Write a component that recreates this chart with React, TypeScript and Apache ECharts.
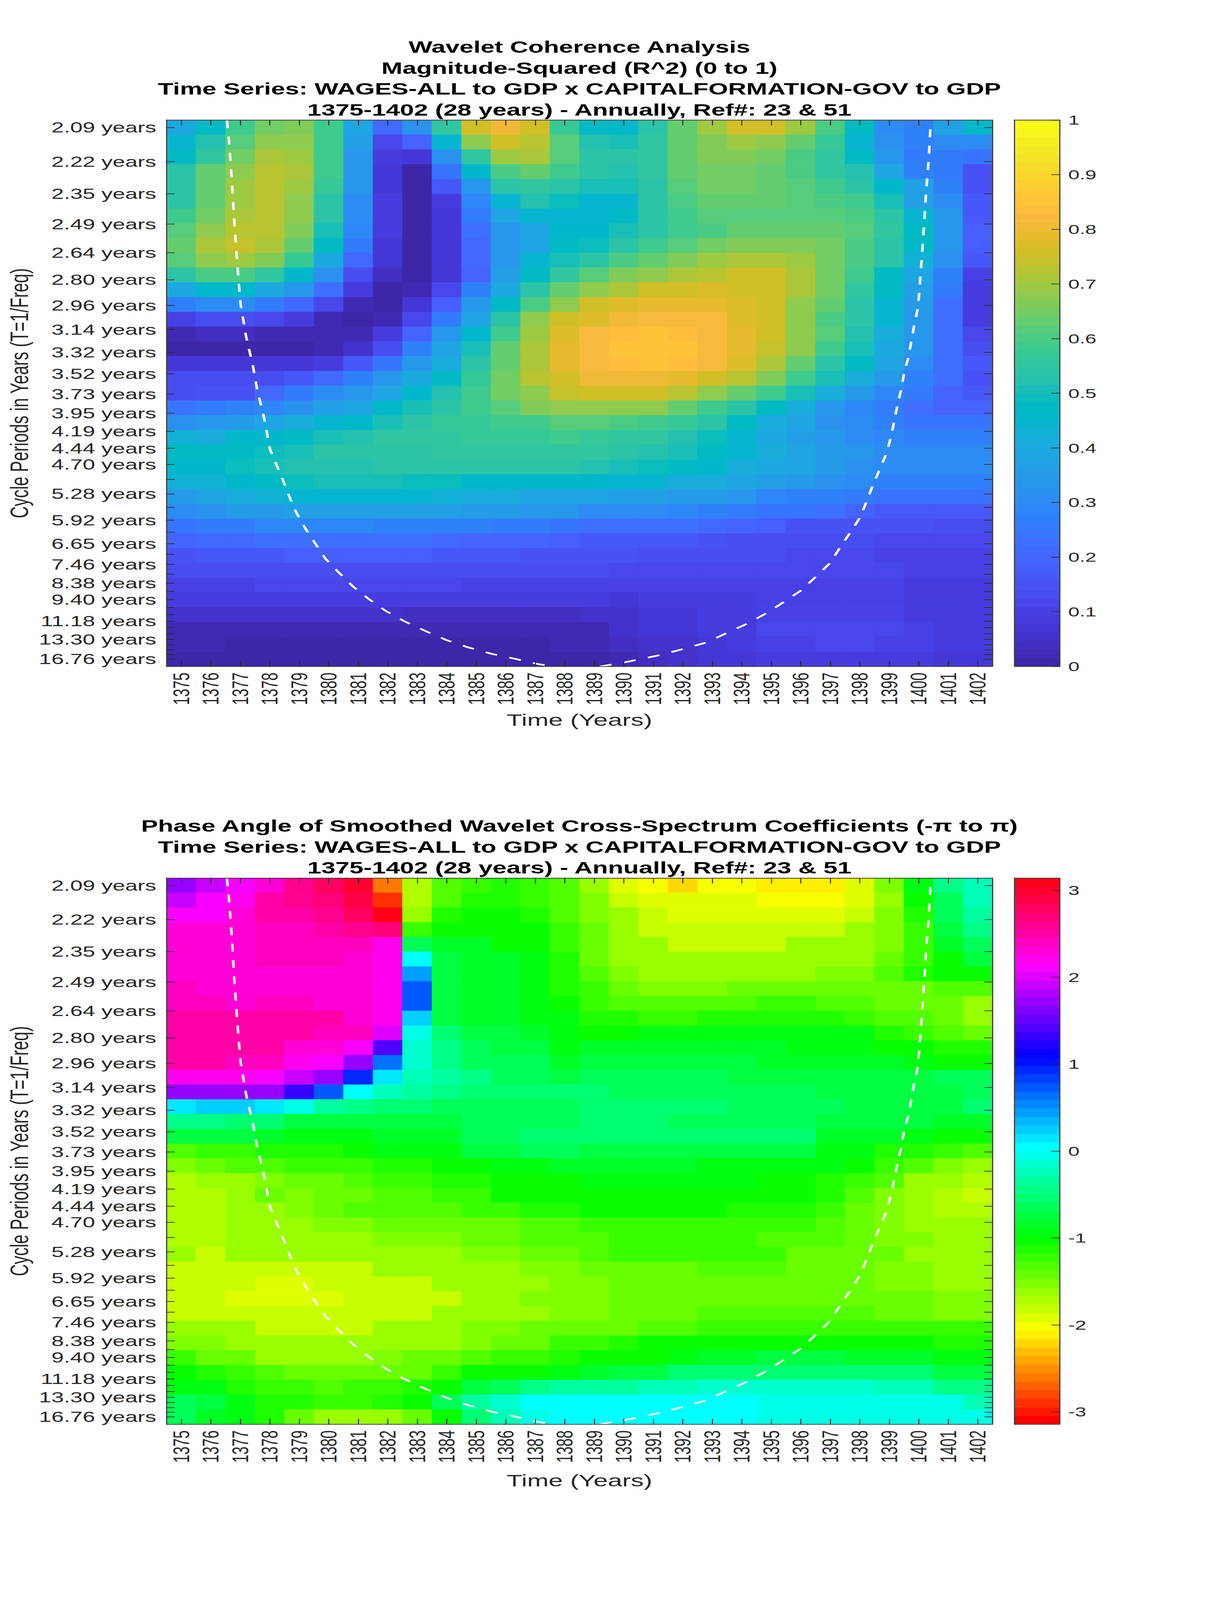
import { useEffect, useRef } from "react";
import * as echarts from "echarts";

const years = [1375, 1376, 1377, 1378, 1379, 1380, 1381, 1382, 1383, 1384, 1385, 1386, 1387, 1388, 1389, 1390, 1391, 1392, 1393, 1394, 1395, 1396, 1397, 1398, 1399, 1400, 1401, 1402];

// cycle period of every scale, top row first
const periods = [2.0945, 2.219, 2.3509, 2.4908, 2.6389, 2.7958, 2.9621, 3.1382, 3.3249, 3.5226, 3.7321, 3.954, 4.189, 4.438, 4.702, 4.981, 5.278, 5.591, 5.924, 6.276, 6.649, 7.045, 7.464, 7.908, 8.378, 8.876, 9.404, 9.963, 10.556, 11.183, 11.848, 12.553, 13.299, 14.09, 14.928, 15.816, 16.756];
const periodLabels = ["2.09", "2.22", "2.35", "2.49", "2.64", "2.80", "2.96", "3.14", "3.32", "3.52", "3.73", "3.95", "4.19", "4.44", "4.70", "", "5.28", "", "5.92", "", "6.65", "", "7.46", "", "8.38", "", "9.40", "", "", "11.18", "", "", "13.30", "", "", "", "16.76"];

const coherence = [
  [.40, .48, .58, .65, .67, .58, .39, .21, .32, .56, .76, .81, .75, .57, .47, .46, .54, .63, .70, .75, .75, .70, .60, .47, .31, .28, .37, .46],
  [.44, .53, .62, .68, .68, .58, .37, .12, .19, .44, .68, .76, .73, .61, .53, .51, .55, .625, .67, .70, .685, .64, .57, .45, .32, .28, .31, .31],
  [.47, .56, .65, .71, .70, .58, .34, .08, .07, .32, .56, .70, .705, .62, .54, .535, .56, .625, .67, .67, .655, .595, .56, .47, .34, .26, .26, .24],
  [.535, .63, .685, .73, .71, .58, .33, .065, .015, .24, .46, .60, .64, .585, .54, .53, .56, .625, .65, .655, .635, .595, .56, .52, .39, .28, .26, .15],
  [.545, .64, .695, .73, .70, .565, .33, .065, 0, .17, .34, .535, .56, .54, .51, .51, .54, .62, .65, .65, .635, .62, .58, .545, .46, .37, .28, .15],
  [.545, .63, .695, .73, .68, .545, .30, .09, 0, .08, .285, .44, .53, .49, .45, .45, .535, .605, .635, .635, .635, .62, .595, .585, .51, .37, .31, .165],
  [.58, .65, .71, .73, .68, .54, .30, .09, 0, .075, .26, .38, .45, .45, .44, .47, .535, .58, .62, .62, .62, .62, .62, .60, .545, .44, .34, .165],
  [.62, .68, .73, .73, .67, .51, .29, .09, 0, .065, .23, .34, .38, .46, .46, .51, .545, .58, .605, .635, .635, .635, .635, .62, .56, .47, .34, .18],
  [.64, .705, .74, .71, .64, .47, .26, .075, 0, .065, .21, .34, .38, .475, .49, .535, .58, .62, .655, .67, .67, .67, .655, .605, .545, .47, .34, .18],
  [.62, .685, .70, .67, .565, .40, .21, .065, 0, .075, .21, .34, .44, .51, .545, .60, .635, .67, .70, .71, .71, .70, .655, .605, .535, .43, .32, .165],
  [.54, .60, .60, .56, .455, .32, .14, .04, 0, .075, .20, .37, .48, .56, .61, .67, .685, .71, .73, .75, .75, .71, .655, .58, .48, .38, .28, .10],
  [.40, .46, .46, .40, .34, .23, .08, .01, .025, .12, .28, .40, .54, .635, .685, .715, .75, .765, .78, .76, .75, .715, .655, .56, .47, .37, .25, .09],
  [.28, .30, .30, .26, .21, .11, .03, .01, .065, .18, .34, .47, .60, .685, .75, .78, .79, .79, .79, .78, .75, .685, .625, .545, .45, .35, .22, .08],
  [.10, .125, .125, .11, .085, .03, .01, .03, .12, .26, .39, .54, .68, .75, .78, .81, .825, .825, .815, .78, .75, .68, .605, .535, .44, .34, .22, .08],
  [.025, .04, .04, .025, .025, .025, .03, .08, .19, .33, .46, .585, .70, .78, .825, .83, .85, .835, .825, .79, .75, .68, .61, .52, .41, .34, .22, .12],
  [.01, .01, .015, .015, .015, .02, .05, .14, .27, .39, .51, .625, .715, .785, .825, .85, .85, .85, .825, .79, .745, .68, .58, .51, .40, .34, .22, .14],
  [.07, .07, .07, .07, .065, .09, .17, .24, .34, .42, .54, .635, .71, .785, .82, .835, .85, .835, .815, .78, .71, .64, .54, .47, .38, .30, .23, .165],
  [.125, .125, .125, .14, .17, .21, .28, .34, .40, .48, .565, .655, .72, .765, .80, .81, .81, .79, .76, .72, .67, .58, .51, .42, .35, .28, .22, .15],
  [.14, .15, .15, .21, .26, .31, .34, .38, .46, .53, .58, .655, .685, .74, .755, .75, .75, .73, .685, .635, .58, .51, .41, .35, .285, .25, .19, .17],
  [.245, .255, .27, .285, .32, .37, .39, .455, .51, .535, .585, .62, .67, .675, .675, .675, .675, .635, .59, .545, .48, .41, .34, .29, .25, .22, .20, .20],
  [.325, .33, .35, .385, .42, .445, .46, .51, .535, .565, .57, .585, .585, .615, .62, .60, .58, .565, .535, .47, .41, .38, .32, .30, .27, .245, .245, .24],
  [.43, .41, .455, .46, .47, .515, .53, .55, .55, .56, .565, .57, .57, .58, .565, .56, .55, .53, .49, .44, .40, .37, .34, .30, .29, .27, .27, .275],
  [.475, .47, .47, .485, .51, .535, .535, .545, .54, .55, .55, .55, .55, .55, .55, .54, .53, .515, .475, .44, .41, .38, .35, .33, .30, .30, .30, .30],
  [.465, .465, .49, .51, .525, .53, .53, .54, .535, .535, .535, .535, .535, .535, .52, .51, .485, .47, .46, .42, .40, .38, .35, .32, .31, .30, .30, .30],
  [.43, .43, .46, .47, .485, .51, .51, .51, .485, .485, .46, .46, .46, .46, .46, .445, .445, .41, .41, .385, .37, .35, .32, .30, .28, .28, .28, .28],
  [.35, .385, .41, .43, .44, .445, .445, .445, .445, .43, .41, .41, .385, .385, .385, .37, .37, .35, .35, .33, .285, .28, .27, .26, .245, .24, .24, .24],
  [.30, .32, .345, .35, .37, .365, .365, .365, .365, .365, .35, .345, .34, .34, .31, .30, .30, .29, .28, .26, .24, .24, .22, .20, .17, .17, .17, .17],
  [.24, .25, .26, .285, .285, .285, .285, .28, .28, .275, .27, .25, .25, .24, .23, .23, .22, .22, .21, .20, .18, .15, .15, .15, .145, .145, .14, .14],
  [.195, .21, .21, .22, .22, .22, .22, .22, .22, .21, .20, .20, .19, .18, .17, .17, .16, .16, .15, .14, .14, .13, .125, .125, .12, .12, .12, .12],
  [.15, .16, .16, .17, .18, .18, .18, .18, .18, .17, .16, .16, .155, .15, .15, .145, .14, .14, .13, .13, .13, .12, .12, .12, .105, .105, .105, .105],
  [.125, .125, .125, .14, .14, .14, .14, .14, .14, .14, .13, .13, .13, .125, .125, .12, .12, .12, .12, .12, .12, .115, .115, .11, .11, .10, .10, .10],
  [.105, .105, .105, .12, .12, .12, .12, .115, .115, .115, .10, .10, .10, .10, .10, .10, .10, .10, .10, .10, .10, .10, .095, .095, .095, .09, .09, .09],
  [.08, .08, .08, .08, .085, .09, .09, .09, .08, .08, .08, .08, .08, .08, .08, .075, .08, .08, .085, .085, .095, .095, .095, .095, .095, .085, .08, .085],
  [.05, .05, .05, .05, .05, .05, .05, .05, .035, .035, .035, .035, .035, .035, .05, .06, .065, .07, .08, .085, .10, .10, .10, .10, .10, .09, .09, .08],
  [.03, .03, .02, .02, .02, .02, .02, .02, .02, .02, .02, .02, .02, .025, .03, .055, .07, .075, .08, .08, .11, .11, .11, .115, .11, .10, .09, .08],
  [.025, .025, .01, .01, .01, .01, .01, .01, .01, .01, .01, .01, .015, .02, .02, .04, .055, .06, .07, .08, .10, .10, .11, .11, .105, .10, .09, .08],
  [.015, .005, .005, .005, .01, .01, .01, .01, .01, .01, .01, .01, .01, .01, .015, .03, .04, .055, .065, .07, .08, .08, .085, .085, .085, .08, .075, .07],
];

const phase = [
  [1.71, 1.90, 2.09, 2.29, 2.51, 2.74, 2.95, -2.62, -1.76, -1.38, -1.31, -1.19, -1.26, -1.38, -1.64, -1.97, -2.09, -2.22, -2.09, -2.09, -2.19, -2.19, -2.19, -1.97, -1.57, -.98, -.52, -.26],
  [1.83, 2.09, 2.15, 2.43, 2.55, 2.62, 2.88, -2.95, -1.74, -1.38, -1.19, -1.19, -1.26, -1.38, -1.6, -1.83, -1.94, -1.94, -1.94, -1.94, -2.09, -2.09, -2.09, -1.97, -1.64, -1.05, -.68, -.26],
  [2.09, 2.09, 2.29, 2.43, 2.49, 2.55, 2.74, 3.0, -1.68, -1.19, -1.05, -1.05, -1.19, -1.38, -1.57, -1.70, -1.83, -1.94, -1.94, -1.94, -1.94, -1.94, -1.94, -1.83, -1.57, -1.19, -.68, -.42],
  [2.29, 2.29, 2.29, 2.40, 2.40, 2.43, 2.55, 2.62, -1.26, -1.05, -1.05, -1.08, -1.08, -1.26, -1.5, -1.64, -1.83, -1.83, -1.83, -1.83, -1.83, -1.83, -1.83, -1.70, -1.57, -1.26, -.8, -.52],
  [2.29, 2.29, 2.29, 2.40, 2.40, 2.40, 2.40, 2.2, -.68, -.92, -.92, -1.08, -1.08, -1.28, -1.5, -1.64, -1.70, -1.83, -1.83, -1.83, -1.83, -1.70, -1.70, -1.70, -1.57, -1.26, -.92, -.68],
  [2.29, 2.29, 2.29, 2.40, 2.40, 2.40, 2.25, 2.15, 0, -.75, -.85, -.85, -1.0, -1.19, -1.45, -1.64, -1.68, -1.68, -1.68, -1.68, -1.68, -1.68, -1.68, -1.64, -1.44, -1.26, -1.05, -.8],
  [2.27, 2.27, 2.27, 2.27, 2.27, 2.27, 2.25, 2.15, .42, -.75, -.85, -.88, -1.02, -1.19, -1.38, -1.57, -1.64, -1.70, -1.64, -1.64, -1.64, -1.64, -1.57, -1.57, -1.38, -1.19, -1.05, -1.05],
  [2.36, 2.29, 2.29, 2.29, 2.29, 2.29, 2.25, 2.15, .66, -.75, -.85, -.88, -1.02, -1.15, -1.31, -1.45, -1.55, -1.55, -1.55, -1.45, -1.45, -1.45, -1.45, -1.45, -1.45, -1.45, -1.38, -1.38],
  [2.40, 2.40, 2.29, 2.40, 2.40, 2.29, 2.29, 2.15, .66, -.75, -.85, -.88, -1.02, -1.08, -1.26, -1.38, -1.38, -1.38, -1.38, -1.38, -1.28, -1.28, -1.38, -1.38, -1.48, -1.48, -1.5, -1.66],
  [2.43, 2.43, 2.43, 2.43, 2.43, 2.43, 2.29, 2.15, .21, -.75, -.85, -.88, -.98, -1.03, -1.19, -1.19, -1.28, -1.28, -1.19, -1.19, -1.19, -1.19, -1.19, -1.28, -1.38, -1.38, -1.48, -1.66],
  [2.43, 2.43, 2.43, 2.43, 2.43, 2.33, 2.33, 1.94, -.09, -.63, -.8, -.83, -.92, -1.03, -1.08, -1.05, -1.03, -1.03, -1.03, -1.03, -1.03, -1.03, -1.03, -1.03, -1.15, -1.28, -1.38, -1.48],
  [2.43, 2.43, 2.43, 2.43, 2.29, 2.29, 2.09, 1.39, -.2, -.5, -.7, -.75, -.83, -.98, -.92, -.92, -.92, -.92, -.92, -.92, -.92, -.98, -.98, -1.0, -1.05, -1.05, -1.22, -1.22],
  [2.43, 2.43, 2.36, 2.33, 2.15, 2.09, 1.64, .61, -.18, -.47, -.68, -.72, -.72, -.85, -.83, -.83, -.83, -.83, -.83, -.83, -.88, -.88, -.88, -.88, -.88, -1.0, -1.05, -1.05],
  [2.18, 2.18, 2.18, 2.09, 1.9, 1.64, .93, .09, -.3, -.4, -.47, -.68, -.7, -.75, -.68, -.68, -.68, -.68, -.68, -.75, -.75, -.75, -.75, -.75, -.83, -.75, -.72, -.72],
  [1.64, 1.71, 1.71, 1.64, 1.29, .72, 0, -.33, -.4, -.5, -.63, -.63, -.63, -.63, -.6, -.7, -.7, -.7, -.7, -.7, -.7, -.7, -.75, -.75, -.75, -.75, -.75, -.68],
  [.12, .23, .23, .12, -.14, -.4, -.52, -.63, -.63, -.68, -.68, -.68, -.68, -.68, -.6, -.56, -.56, -.56, -.58, -.68, -.68, -.68, -.68, -.75, -.75, -.75, -.75, -.63],
  [-.5, -.5, -.56, -.63, -.75, -.83, -.83, -.83, -.83, -.75, -.72, -.72, -.72, -.72, -.56, -.56, -.56, -.7, -.7, -.7, -.7, -.7, -.8, -.8, -.8, -.8, -.88, -.88],
  [-.75, -.83, -.83, -.85, -1.0, -1.0, -1.0, -.85, -.85, -.88, -.68, -.68, -.56, -.56, -.63, -.63, -.63, -.63, -.63, -.63, -.63, -.63, -.88, -.88, -.88, -1.0, -1.05, -1.05],
  [-1.38, -1.28, -1.28, -1.19, -1.19, -1.19, -1.05, -1.03, -1.0, -.98, -.83, -.75, -.72, -.72, -.75, -.75, -.75, -.75, -.75, -.75, -.75, -.75, -.95, -1.03, -1.15, -1.19, -1.28, -1.38],
  [-1.57, -1.48, -1.38, -1.38, -1.31, -1.26, -1.26, -1.19, -1.19, -1.05, -1.05, -1.03, -.95, -.88, -.88, -.92, -.92, -.92, -.95, -.95, -.95, -.98, -1.03, -1.05, -1.26, -1.38, -1.57, -1.64],
  [-1.74, -1.66, -1.64, -1.55, -1.45, -1.45, -1.38, -1.28, -1.28, -1.19, -1.19, -1.05, -1.05, -1.05, -1.02, -1.02, -1.02, -1.02, -1.02, -1.02, -1.05, -1.05, -1.15, -1.26, -1.38, -1.64, -1.68, -1.74],
  [-1.74, -1.74, -1.64, -1.5, -1.6, -1.45, -1.45, -1.38, -1.38, -1.28, -1.28, -1.1, -1.1, -1.1, -1.05, -1.05, -1.05, -1.05, -1.05, -1.1, -1.1, -1.1, -1.22, -1.35, -1.57, -1.70, -1.76, -1.85],
  [-1.74, -1.74, -1.64, -1.64, -1.55, -1.48, -1.40, -1.40, -1.35, -1.35, -1.28, -1.28, -1.22, -1.15, -1.1, -1.1, -1.1, -1.1, -1.1, -1.22, -1.22, -1.22, -1.31, -1.45, -1.6, -1.7, -1.74, -1.74],
  [-1.74, -1.74, -1.66, -1.66, -1.66, -1.57, -1.57, -1.48, -1.48, -1.48, -1.45, -1.45, -1.38, -1.38, -1.26, -1.26, -1.26, -1.26, -1.26, -1.26, -1.26, -1.28, -1.38, -1.45, -1.6, -1.66, -1.68, -1.70],
  [-1.74, -1.74, -1.68, -1.68, -1.66, -1.62, -1.62, -1.55, -1.55, -1.55, -1.48, -1.48, -1.4, -1.38, -1.35, -1.28, -1.28, -1.28, -1.28, -1.28, -1.35, -1.35, -1.38, -1.48, -1.55, -1.6, -1.66, -1.66],
  [-1.68, -1.83, -1.70, -1.70, -1.70, -1.70, -1.70, -1.64, -1.64, -1.64, -1.57, -1.57, -1.5, -1.48, -1.38, -1.31, -1.31, -1.31, -1.31, -1.31, -1.31, -1.45, -1.45, -1.45, -1.5, -1.64, -1.66, -1.66],
  [-1.83, -1.83, -1.83, -1.83, -1.83, -1.83, -1.83, -1.68, -1.68, -1.68, -1.64, -1.64, -1.55, -1.55, -1.5, -1.45, -1.45, -1.45, -1.38, -1.38, -1.38, -1.45, -1.45, -1.45, -1.55, -1.6, -1.66, -1.66],
  [-1.83, -1.83, -1.83, -1.97, -1.97, -1.87, -1.87, -1.87, -1.87, -1.70, -1.70, -1.64, -1.64, -1.57, -1.6, -1.5, -1.45, -1.45, -1.45, -1.45, -1.45, -1.45, -1.45, -1.45, -1.55, -1.55, -1.66, -1.66],
  [-1.83, -1.83, -1.97, -1.97, -1.97, -1.97, -1.87, -1.87, -1.87, -1.83, -1.66, -1.66, -1.57, -1.57, -1.6, -1.5, -1.45, -1.45, -1.45, -1.45, -1.45, -1.45, -1.45, -1.45, -1.45, -1.45, -1.55, -1.55],
  [-1.83, -1.83, -1.83, -1.87, -1.87, -1.87, -1.87, -1.87, -1.87, -1.70, -1.70, -1.64, -1.64, -1.57, -1.6, -1.45, -1.45, -1.45, -1.35, -1.35, -1.35, -1.35, -1.35, -1.35, -1.45, -1.45, -1.55, -1.55],
  [-1.68, -1.68, -1.68, -1.83, -1.83, -1.83, -1.83, -1.7, -1.7, -1.7, -1.6, -1.6, -1.5, -1.5, -1.48, -1.45, -1.35, -1.35, -1.26, -1.26, -1.26, -1.26, -1.26, -1.26, -1.26, -1.26, -1.31, -1.31],
  [-1.55, -1.55, -1.66, -1.7, -1.7, -1.7, -1.7, -1.7, -1.64, -1.64, -1.55, -1.5, -1.45, -1.31, -1.28, -1.19, -1.1, -1.1, -1.05, -1.05, -1.05, -1.05, -1.05, -1.05, -1.05, -1.05, -1.15, -1.15],
  [-1.31, -1.48, -1.48, -1.62, -1.62, -1.62, -1.62, -1.6, -1.5, -1.5, -1.38, -1.31, -1.26, -1.15, -1.1, -1.05, -1.05, -.95, -.92, -.85, -.83, -.8, -.8, -.85, -.85, -.85, -1.0, -1.02],
  [-1.1, -1.22, -1.31, -1.40, -1.5, -1.5, -1.5, -1.45, -1.45, -1.26, -1.1, -1.05, -1.05, -.98, -.85, -.83, -.75, -.63, -.6, -.6, -.6, -.6, -.6, -.6, -.6, -.6, -.75, -.83],
  [-1.02, -1.03, -1.15, -1.26, -1.31, -1.38, -1.28, -1.28, -1.22, -1.05, -.8, -.7, -.5, -.37, -.4, -.4, -.26, -.26, -.22, -.22, -.22, -.22, -.22, -.22, -.26, -.26, -.47, -.52],
  [-.68, -.75, -1.0, -1.15, -1.22, -1.28, -1.28, -1.22, -1.05, -.68, -.4, -.18, 0, 0, 0, 0, 0, 0, 0, 0, -.05, -.05, -.05, -.05, -.05, -.1, -.1, -.26],
  [-.68, -.85, -1.03, -1.19, -1.45, -1.64, -1.70, -1.66, -1.48, -1.05, -.6, -.26, -.05, 0, 0, 0, 0, 0, 0, 0, -.05, -.05, -.05, -.05, -.05, -.14, -.14, -.14],
];

// cone of influence, read as year and frequency (1/period)
const coneLeftYears = [1376.55, 1376.62, 1376.71, 1376.8, 1376.92, 1377.01, 1377.2, 1377.43, 1377.57, 1377.81, 1378.01, 1378.22, 1378.45, 1378.69, 1378.91, 1379.22, 1379.55, 1379.89, 1380.34, 1380.82, 1381.36, 1381.92, 1382.57, 1383.27, 1384.01, 1384.76, 1385.55, 1386.33, 1387.12, 1387.67];
const coneLeftFreqs = [.4831, .4672, .4382, .4031, .3644, .3389, .3131, .2902, .2719, .2494, .2245, .2128, .2003, .186, .1744, .1619, .1502, .1386, .1277, .1168, .1068, .0977, .0893, .0818, .0744, .0686, .0636, .0598, .0556, .0538];
const coneRightYears = [1389.19, 1390.02, 1391.23, 1392.02, 1392.79, 1393.51, 1394.21, 1394.86, 1395.48, 1396.02, 1396.51, 1397, 1397.32, 1397.69, 1398.02, 1398.25, 1398.46, 1398.69, 1398.92, 1399.07, 1399.18, 1399.29, 1399.41, 1399.52, 1399.65, 1399.75, 1399.85, 1399.97, 1400.02, 1400.1, 1400.18, 1400.25, 1400.34, 1400.41];
const coneRightFreqs = [.0538, .057, .0628, .0676, .0726, .0803, .0877, .096, .1053, .1137, .1243, .1352, .1468, .1595, .1712, .1845, .1969, .2094, .2219, .2354, .2478, .2603, .2719, .2862, .2965, .3093, .3222, .3351, .3478, .3735, .3992, .4262, .4523, .4825];

const coherenceTicks = [0, .1, .2, .3, .4, .5, .6, .7, .8, .9, 1];
const phaseTicks = [-3, -2, -1, 0, 1, 2, 3];

const titleCoherence = ["Wavelet Coherence Analysis", "Magnitude-Squared (R^2) (0 to 1)", "Time Series: WAGES-ALL to GDP x CAPITALFORMATION-GOV to GDP", "1375-1402 (28 years) - Annually, Ref#: 23 & 51"];
const titlePhase = ["Phase Angle of Smoothed Wavelet Cross-Spectrum Coefficients (-π to π)", "Time Series: WAGES-ALL to GDP x CAPITALFORMATION-GOV to GDP", "1375-1402 (28 years) - Annually, Ref#: 23 & 51"];

// MATLAB parula, 64 levels
const parula = [
  [.2422, .1504, .6603], [.2504, .165, .7076], [.2578, .1818, .7511], [.2647, .1978, .7952], [.2706, .2147, .8364], [.2751, .2342, .871], [.2783, .2559, .8991], [.2803, .2782, .9221],
  [.2813, .3006, .9414], [.281, .3228, .9579], [.2795, .3447, .9717], [.276, .3667, .9829], [.2699, .3892, .9906], [.2602, .4123, .9952], [.244, .4358, .9988], [.2206, .4603, .9973],
  [.1963, .4847, .9892], [.1834, .5074, .9798], [.1786, .5289, .9682], [.1764, .5499, .952], [.1687, .5703, .9359], [.154, .5902, .9218], [.146, .6091, .9079], [.138, .6276, .8973],
  [.1248, .6459, .8883], [.1113, .6635, .8763], [.0952, .6798, .8598], [.0689, .6948, .8394], [.0297, .7082, .8163], [.0036, .7203, .7917], [.0067, .7312, .766], [.0433, .7411, .7394],
  [.0964, .75, .712], [.1408, .7584, .6842], [.1717, .767, .6554], [.1938, .7758, .6251], [.2161, .7843, .5923], [.247, .7918, .5567], [.2906, .7973, .5188], [.3406, .8008, .4789],
  [.3909, .8029, .4354], [.4456, .8024, .3909], [.5044, .7993, .348], [.5616, .7942, .3045], [.6174, .7876, .2612], [.672, .7793, .2227], [.7242, .7698, .191], [.7738, .7598, .1646],
  [.8203, .7498, .1535], [.8634, .7406, .1596], [.9035, .733, .1774], [.9393, .7288, .21], [.9728, .7298, .2394], [.9956, .7434, .2371], [.997, .7659, .2199], [.9952, .7893, .2028],
  [.9892, .8136, .1885], [.9786, .8386, .1766], [.9676, .8639, .1643], [.961, .889, .1537], [.9597, .9135, .1423], [.9628, .9373, .1265], [.9691, .9606, .1064], [.9769, .9839, .0805],
];

const LEVELS = 64;
const PI = Math.PI;
const FONT = "'Liberation Sans', Arial, sans-serif";
const INK = "#262626";
const FRAME = "#404040";
const PAGE_WIDTH = 3125;
const PAGE_HEIGHT = 6252;

function rgb(c: number[]) {
  return `rgb(${Math.round(c[0] * 255)},${Math.round(c[1] * 255)},${Math.round(c[2] * 255)})`;
}

function parulaColor(level: number) {
  return rgb(parula[level]);
}

// MATLAB hsv colormap with 64 levels
function hsvColor(level: number) {
  const h = (level / LEVELS) * 6;
  const x = 1 - Math.abs((h % 2) - 1);
  const table = [[1, x, 0], [x, 1, 0], [0, 1, x], [0, x, 1], [x, 0, 1], [1, 0, x]];
  return rgb(table[Math.floor(h) % 6]);
}

function levelOf(v: number, min: number, max: number) {
  return Math.max(0, Math.min(LEVELS - 1, Math.floor(((v - min) / (max - min)) * LEVELS)));
}

function phaseLevel(v: number) {
  return Math.round(((v + PI) / (2 * PI)) * LEVELS) % LEVELS;
}

const freqs = periods.map((p) => 1 / p);
const rowStep = (freqs[0] - freqs[freqs.length - 1]) / (freqs.length - 1);
const freqMax = freqs[0] + rowStep / 2;
const freqMin = freqs[freqs.length - 1] - rowStep / 2;
const labelledFreqs = freqs.filter((_, i) => periodLabels[i] !== "");

function freqLabel(v: number) {
  let best = 0;
  freqs.forEach((f, i) => {
    if (Math.abs(f - v) < Math.abs(freqs[best] - v)) best = i;
  });
  return `${periodLabels[best]} years`;
}

function cellsOf(rows: number[][]) {
  const out: number[][] = [];
  rows.forEach((row, r) => {
    row.forEach((v, c) => out.push([years[c], freqs[0] - r * rowStep, v]));
  });
  return out;
}

function zip(xs: number[], ys: number[]) {
  return xs.map((x, i) => [x, ys[i]]);
}

const lineStyle = { color: FRAME, width: 3 };
const tickStyle = { color: INK, width: 2.5 };

function plotAxes(gridIndex: number, xName: string, yName: string, xGap: number) {
  const xBase = {
    type: "value", gridIndex, min: 1374.5, max: 1402.5, z: 10, silent: true,
    splitLine: { show: false },
    axisLine: { show: true, onZero: false, lineStyle },
    axisTick: { show: true, inside: true, length: 21, customValues: years, lineStyle: tickStyle },
  };
  const yBase = {
    type: "value", gridIndex, min: freqMin, max: freqMax, z: 10, silent: true,
    splitLine: { show: false },
    axisLine: { show: true, onZero: false, lineStyle },
    axisTick: { show: true, inside: true, length: 21, customValues: freqs, lineStyle: tickStyle },
  };
  return {
    x: [
      {
        ...xBase, position: "bottom",
        name: xName, nameLocation: "middle", nameGap: xGap,
        nameTextStyle: { fontFamily: FONT, fontSize: 66, color: INK },
        axisLabel: { show: true, rotate: 90, margin: 24, fontFamily: FONT, fontSize: 57, color: INK, customValues: years, formatter: (v: number) => String(v) },
      },
      { ...xBase, position: "top", axisLabel: { show: false } },
    ],
    y: [
      {
        ...yBase, position: "left",
        name: yName, nameLocation: "middle", nameGap: 344,
        nameTextStyle: { fontFamily: FONT, fontSize: 65, color: INK },
        axisLabel: { show: true, margin: 26, fontFamily: FONT, fontSize: 57.5, color: INK, customValues: labelledFreqs, formatter: freqLabel },
      },
      { ...yBase, position: "right", axisLabel: { show: false } },
    ],
  };
}

function barAxes(gridIndex: number, min: number, max: number, ticks: number[]) {
  const xBase = {
    type: "value", gridIndex, min: 0, max: 1, z: 10, silent: true,
    splitLine: { show: false }, axisTick: { show: false }, axisLabel: { show: false },
    axisLine: { show: true, onZero: false, lineStyle },
  };
  const yBase = { type: "value", gridIndex, min, max, z: 10, silent: true, splitLine: { show: false } };
  return {
    x: [{ ...xBase, position: "bottom" }, { ...xBase, position: "top" }],
    y: [
      {
        ...yBase, position: "right",
        axisLine: { show: true, onZero: false, lineStyle },
        axisTick: { show: true, inside: true, length: 21, customValues: ticks, lineStyle: tickStyle },
        axisLabel: { show: true, margin: 22, fontFamily: FONT, fontSize: 52, color: INK, customValues: ticks, formatter: (v: number) => String(v) },
      },
      {
        ...yBase, position: "left",
        axisLine: { show: true, onZero: false, lineStyle }, axisTick: { show: false }, axisLabel: { show: false },
      },
    ],
  };
}

function cellSeries(axisIndex: number, rows: number[][], colorOf: (v: number) => string) {
  return {
    type: "custom", coordinateSystem: "cartesian2d", xAxisIndex: axisIndex, yAxisIndex: axisIndex,
    data: cellsOf(rows), encode: { x: 0, y: 1 }, silent: true, progressive: 0,
    renderItem: (_: unknown, api: any) => {
      const a = api.coord([api.value(0) - 0.5, api.value(1) + rowStep / 2]);
      const b = api.coord([api.value(0) + 0.5, api.value(1) - rowStep / 2]);
      const fill = colorOf(api.value(2));
      return {
        type: "rect",
        shape: { x: a[0], y: a[1], width: b[0] - a[0], height: b[1] - a[1] },
        style: { fill, stroke: fill, lineWidth: 1 },
      };
    },
  };
}

function barSeries(axisIndex: number, min: number, max: number, colorOf: (level: number) => string) {
  const span = (max - min) / LEVELS;
  const levels = Array.from({ length: LEVELS }, (_, i) => [i]);
  return {
    type: "custom", coordinateSystem: "cartesian2d", xAxisIndex: axisIndex, yAxisIndex: axisIndex,
    data: levels, silent: true, progressive: 0,
    renderItem: (_: unknown, api: any) => {
      const level = api.value(0);
      const a = api.coord([0, min + (level + 1) * span]);
      const b = api.coord([1, min + level * span]);
      const fill = colorOf(level);
      return {
        type: "rect",
        shape: { x: a[0], y: a[1], width: b[0] - a[0], height: b[1] - a[1] },
        style: { fill, stroke: fill, lineWidth: 1 },
      };
    },
  };
}

function coneSeries(axisIndex: number, data: number[][]) {
  return {
    type: "line", xAxisIndex: axisIndex, yAxisIndex: axisIndex, data, z: 5, silent: true,
    showSymbol: false, symbol: "none", clip: true,
    lineStyle: { color: "#ffffff", width: 6.5, type: [31, 33] },
  };
}

function titleBlocks(lines: string[], tops: number[]) {
  return lines.map((text, i) => ({
    text, left: 1483, top: tops[i], textAlign: "center", padding: 0,
    textStyle: { fontFamily: FONT, fontWeight: "bold", fontSize: 64.6, color: "#000000" },
  }));
}

export default function App() {
  const ref = useRef<HTMLDivElement>(null);
  // the browser window can be shorter than the chart; squeeze vertically so nothing is cut off
  const fit = Math.min(1, window.innerHeight / PAGE_HEIGHT);

  useEffect(() => {
    if (!ref.current) return;
    document.body.style.margin = "0";
    const chart = echarts.init(ref.current, null, { renderer: "svg" });

    const plotA = plotAxes(0, "Time (Years)", "Cycle Periods in Years (T=1/Freq)", 176);
    const barA = barAxes(1, 0, 1, coherenceTicks);
    const plotB = plotAxes(2, "Time (Years)", "Cycle Periods in Years (T=1/Freq)", 187);
    const barB = barAxes(3, -PI, PI, phaseTicks);

    chart.setOption({
      animation: false,
      backgroundColor: "#ffffff",
      title: [...titleBlocks(titleCoherence, [152, 234, 315, 397]), ...titleBlocks(titlePhase, [3196, 3277, 3359])],
      grid: [
        { left: 426, top: 469, width: 2114, height: 2135 },
        { left: 2596, top: 469, width: 116, height: 2135 },
        { left: 426, top: 3431, width: 2114, height: 2134 },
        { left: 2596, top: 3431, width: 116, height: 2134 },
      ],
      xAxis: [...plotA.x, ...barA.x, ...plotB.x, ...barB.x],
      yAxis: [...plotA.y, ...barA.y, ...plotB.y, ...barB.y],
      series: [
        cellSeries(0, coherence, (v) => parulaColor(levelOf(v, 0, 1))),
        coneSeries(0, zip(coneLeftYears, coneLeftFreqs)),
        coneSeries(0, zip(coneRightYears, coneRightFreqs)),
        barSeries(2, 0, 1, parulaColor),
        cellSeries(4, phase, (v) => hsvColor(phaseLevel(v))),
        coneSeries(4, zip(coneLeftYears, coneLeftFreqs)),
        coneSeries(4, zip(coneRightYears, coneRightFreqs)),
        barSeries(6, -PI, PI, hsvColor),
      ],
    });

    return () => chart.dispose();
  }, []);

  return (
    <div style={{ width: PAGE_WIDTH, height: PAGE_HEIGHT * fit, overflow: "hidden" }}>
      <div
        ref={ref}
        style={{ width: PAGE_WIDTH, height: PAGE_HEIGHT, transform: `scaleY(${fit})`, transformOrigin: "0 0" }}
      />
    </div>
  );
}
